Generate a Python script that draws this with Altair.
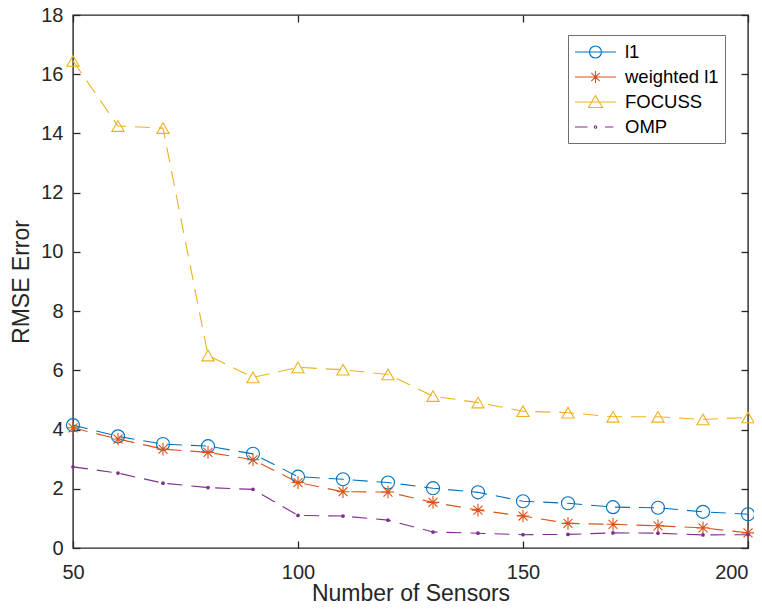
import altair as alt
import pandas as pd

sensors = [50, 60, 70, 80, 90, 100, 110, 120, 130, 140, 150, 160, 170, 180, 190, 200]
l1 = [4.15, 3.77, 3.51, 3.44, 3.18, 2.41, 2.32, 2.21, 2.02, 1.88, 1.58, 1.51, 1.38, 1.36, 1.22, 1.14]
weighted_l1 = [4.06, 3.68, 3.34, 3.23, 2.98, 2.21, 1.90, 1.89, 1.54, 1.28, 1.08, 0.83, 0.80, 0.75, 0.68, 0.51]
focuss = [16.45, 14.25, 14.18, 6.50, 5.76, 6.10, 6.02, 5.86, 5.13, 4.91, 4.62, 4.57, 4.43, 4.43, 4.34, 4.41]
omp = [2.74, 2.53, 2.19, 2.04, 1.98, 1.10, 1.08, 0.94, 0.54, 0.50, 0.45, 0.46, 0.51, 0.50, 0.44, 0.45]

series_names = ["l1", "weighted l1", "FOCUSS", "OMP"]
series_values = [l1, weighted_l1, focuss, omp]
colors = ["#0072BD", "#D95319", "#EDB120", "#7E2F8E"]

x_ticks = [50, 100, 150, 200]
y_ticks = [0, 2, 4, 6, 8, 10, 12, 14, 16, 18]

rows = []
for name, vals in zip(series_names, series_values):
    for s, v in zip(sensors, vals):
        rows.append({"sensors": s, "rmse": v, "series": name})
df = pd.DataFrame(rows)

FONT = "Liberation Sans"
TXT = "#262626"

color_scale = alt.Scale(domain=series_names, range=colors)
xs = alt.Scale(domain=[50, 200], nice=False, zero=False)
ys = alt.Scale(domain=[0, 18], nice=False)

base = alt.Chart(df)

ax_common = dict(domain=False, grid=False, tickSize=7, offset=-7, tickColor=TXT,
                 tickWidth=1.3, labelColor=TXT, labelFont=FONT, labelFontSize=20,
                 labelFlush=False,
                 titleColor=TXT, titleFont=FONT, titleFontSize=23, titleFontWeight="normal")

lines = base.mark_line(strokeDash=[15, 9], strokeWidth=1.1).encode(
    x=alt.X("sensors:Q", scale=xs,
            axis=alt.Axis(values=x_ticks, title="Number of Sensors", labelPadding=14,
                          titlePadding=0,
                          labelAlign=alt.ExprRef("datum.value == 200 ? 'right' : 'center'"),
                          **ax_common)),
    y=alt.Y("rmse:Q", scale=ys,
            axis=alt.Axis(values=y_ticks, title="RMSE Error", labelPadding=10,
                          titlePadding=7, **ax_common)),
    color=alt.Color("series:N", scale=color_scale, legend=None),
    detail="series:N",
)

shape_scale = alt.Scale(
    domain=["l1", "weighted l1", "FOCUSS"],
    range=["circle",
           "M0,-1L0,1M-1,0L1,0M-0.71,-0.71L0.71,0.71M-0.71,0.71L0.71,-0.71",
           "triangle-up"],
)

marks = base.transform_filter("datum.series != 'OMP'").mark_point(
    filled=False, strokeWidth=1.1, opacity=1
).encode(
    x=alt.X("sensors:Q", scale=xs, axis=None),
    y=alt.Y("rmse:Q", scale=ys, axis=None),
    color=alt.Color("series:N", scale=color_scale, legend=None),
    shape=alt.Shape("series:N", scale=shape_scale, legend=None),
    size=alt.Size("series:N", scale=alt.Scale(domain=["l1", "weighted l1", "FOCUSS"],
                                              range=[170, 150, 200]), legend=None),
)

box_axis = dict(domain=False, grid=False, tickSize=7, offset=-7, tickColor=TXT,
                tickWidth=1.3, labels=False, title=None)

dots = base.transform_filter("datum.series == 'OMP'").mark_point(
    filled=True, size=14, opacity=1, shape="circle"
).encode(
    x=alt.X("sensors:Q", scale=xs, axis=alt.Axis(orient="top", values=x_ticks, **box_axis)),
    y=alt.Y("rmse:Q", scale=ys, axis=alt.Axis(orient="right", values=y_ticks, **box_axis)),
    color=alt.Color("series:N", scale=color_scale, legend=None),
)

# legend glyphs: line sample + marker (units of 10 px, marker centred at x=1.05)
legend_paths = [
    "M-1,0L3.1,0M1.65,0A0.6,0.6 0 1,1 0.45,0A0.6,0.6 0 1,1 1.65,0",
    "M-1,0L3.1,0M1.05,-0.6L1.05,0.6M0.45,0L1.65,0M0.63,-0.42L1.47,0.42M0.63,0.42L1.47,-0.42",
    "M-1,0L3.1,0M1.05,-0.65L1.75,0.55L0.35,0.55Z",
    "M-1,0L0.25,0M2.0,0L2.85,0M1.17,0A0.12,0.12 0 1,1 0.93,0A0.12,0.12 0 1,1 1.17,0",
]

legend_layer = base.transform_filter("false").mark_point(filled=False, opacity=1).encode(
    shape=alt.Shape(
        "series:N", scale=alt.Scale(domain=series_names, range=legend_paths),
        legend=alt.Legend(
            title=None, orient="none", legendX=495, legendY=20,
            symbolStrokeColor=alt.ExprRef("scale('color', datum.value)"),
            symbolFillColor="transparent",
        ),
    ),
)

chart = alt.layer(lines, marks, dots, legend_layer).resolve_scale(
    shape="independent", size="independent"
).resolve_axis(
    x="independent", y="independent"
).properties(
    width=675, height=533,
    autosize=alt.AutoSizeParams(type="none"),
    padding={"left": 65, "top": 7, "right": 6, "bottom": 58},
    background="white",
).configure_view(
    stroke=TXT, strokeWidth=1.4
).configure_legend(
    labelFont=FONT, labelFontSize=18.5, labelColor="#000000",
    symbolSize=400, symbolStrokeWidth=1.1, labelOffset=29,
    rowPadding=4, padding=6, strokeColor="#6e6e6e", fillColor="white",
    symbolOpacity=1,
)

chart.save("out.html", embed_options={"renderer": "svg", "actions": False})
